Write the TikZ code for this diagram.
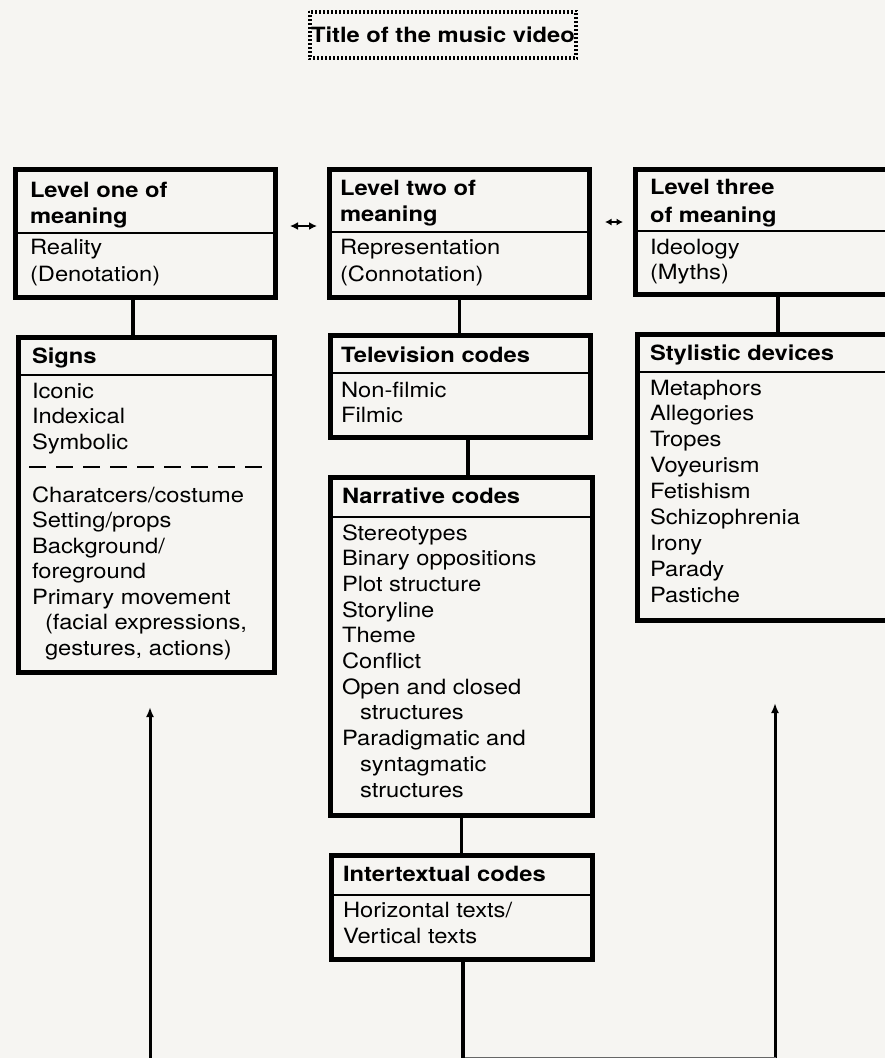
\documentclass[tikz,border=0pt]{standalone}
\usepackage{fontspec}
\setmainfont{TeX Gyre Heros}[FakeStretch=1.13]
\usetikzlibrary{arrows.meta,calc}
\definecolor{paper}{RGB}{246,245,242}
\newcommand\boxlines[6]{\foreach \t [count=\i] in {#6}{\node[#1] (#2-\i) at (#3,{#4+(\i-1)*#5}) {\t};}}
\begin{document}
\begin{tikzpicture}[x=1pt,y=-1pt,
  frame/.style={draw=black,line width=5pt,inner sep=0pt,outer sep=2.5pt},
  txt/.style={anchor=base west,inner sep=0pt,outer sep=0pt,font=\fontsize{21pt}{26pt}\selectfont},
  hd/.style={txt,font=\fontsize{21pt}{26pt}\selectfont\bfseries},
  divline/.style={line width=1.5pt},
  dashline/.style={line width=2pt,dash pattern=on 17pt off 10pt},
  conn/.style={line width=3.5pt},
  dbl/.style={line width=2.5pt,{Latex[length=8pt,width=8pt]}-{Latex[length=8pt,width=8pt]}},
  uparr/.style={line width=3pt,-{Latex[length=10pt,width=8pt]}},
  chk/.style={line width=2pt,dash pattern=on 2pt off 2pt}
]
\path[use as bounding box] (0,0) rectangle (885,1058);
\clip (0,0) rectangle (885,1058);
\fill[paper] (0,0) rectangle (885,1058);

% title
\node[font=\fontsize{21pt}{26pt}\selectfont\bfseries,minimum width=268pt,minimum height=48pt,inner sep=0pt,outer sep=0pt] (title) at (443,35) {Title of the music video};
\draw[chk] (title.north west) rectangle (title.south east);
\draw[chk,dash phase=2pt] ([shift={(2pt,-2pt)}]title.north west) rectangle ([shift={(-2pt,2pt)}]title.south east);

% boxes
\node[frame,minimum width=260pt,minimum height=128pt] (l1) at (145.5,233.5) {};
\node[frame,minimum width=260pt,minimum height=128pt] (l2) at (459.5,233.5) {};
\node[frame,minimum width=285pt,minimum height=125pt] (l3) at (778,232) {};
\node[frame,minimum width=256pt,minimum height=335pt] (signs) at (146.5,505) {};
\node[frame,minimum width=260pt,minimum height=102pt] (tv) at (460.5,386.5) {};
\node[frame,minimum width=262pt,minimum height=338pt] (narr) at (461.5,646.5) {};
\node[frame,minimum width=261pt,minimum height=104pt] (inter) at (462,907.5) {};
\node[frame,minimum width=283pt,minimum height=286pt] (styl) at (779,477.5) {};

% dividers
\draw[divline] (l1.west |- 0,233) -- (l1.east |- 0,233);
\draw[divline] (l2.west |- 0,232) -- (l2.east |- 0,232);
\draw[divline] (l3.west |- 0,231) -- (l3.east |- 0,231);
\draw[divline] (signs.west |- 0,375) -- (signs.east |- 0,375);
\draw[dashline] (29,467) -- (270,467);
\draw[divline] (tv.west |- 0,373) -- (tv.east |- 0,373);
\draw[divline] (narr.west |- 0,517) -- (narr.east |- 0,517);
\draw[divline] (inter.west |- 0,895) -- (inter.east |- 0,895);
\draw[divline] (styl.west |- 0,372) -- (styl.east |- 0,372);

% double arrows
\draw[dbl,shorten <=12pt,shorten >=10pt] ([yshift=7.5pt]l1.east) -- ([yshift=7.5pt]l2.west);
\draw[line width=2pt,{Latex[length=6.5pt,width=7pt]}-{Latex[length=6.5pt,width=7pt]},shorten <=13pt,shorten >=10pt] ([yshift=11.5pt]l2.east) -- ([yshift=10pt]l3.west);

% connectors
\draw[conn] ([xshift=-12.5pt]l1.south) -- ([xshift=-12.5pt]l1.south |- signs.north);
\draw[conn] (l2.south) -- (l2.south |- tv.north);
\draw[conn] ([xshift=7.5pt]tv.south) -- ([xshift=7.5pt]tv.south |- narr.north);
\draw[conn] (narr.south) -- (narr.south |- inter.north);
\coordinate (bot) at (463,1062);
\draw[conn] (inter.south -| bot) -- (bot);
\draw[conn] (l3.south) -- (l3.south |- styl.north);

% upward arrows
\coordinate (lb) at (150,1062);
\coordinate (lt) at (150,707);
\coordinate (rb) at (775,1062);
\coordinate (rt) at (775,703);
\draw[uparr] (lb) -- (lt);
\draw[uparr] (rb) -- (rt);
\coordinate (bl1) at (465,1058.5);
\coordinate (bl2) at (776,1058.5);
\draw[line width=3pt,black!60] (bl1) -- (bl2);

% texts
\boxlines{hd}{l1h}{30}{197}{26}{Level one of, meaning}
\boxlines{txt}{l1b}{30}{254}{27}{Reality, (Denotation)}
\boxlines{hd}{l2h}{340}{195}{26.5}{Level two of, meaning}
\boxlines{txt}{l2b}{340}{254}{27}{Representation, (Connotation)}
\boxlines{hd}{l3h}{650}{194}{28}{Level three, of meaning}
\boxlines{txt}{l3b}{650}{254}{25.5}{Ideology, (Myths)}
\boxlines{hd}{sgh}{32}{363}{0}{Signs}
\boxlines{txt}{sgb}{32}{398}{25.5}{Iconic, Indexical, Symbolic}
\boxlines{txt}{sgc}{32}{502}{25.5}{Charatcers/costume, Setting/props, Background/, foreground, Primary movement, {\hspace*{13pt}(facial expressions,}, {\hspace*{13pt}gestures, actions)}}
\boxlines{hd}{tvh}{341}{362}{0}{Television codes}
\boxlines{txt}{tvb}{341}{397}{25}{Non-filmic, Filmic}
\boxlines{hd}{nrh}{342}{503}{0}{Narrative codes}
\boxlines{txt}{nrb}{342}{540}{25.7}{Stereotypes, Binary oppositions, Plot structure, Storyline, Theme, Conflict, Open and closed, \hspace*{18pt}structures, Paradigmatic and, \hspace*{18pt}syntagmatic, \hspace*{18pt}structures}
\boxlines{hd}{ith}{343}{881}{0}{Intertextual codes}
\boxlines{txt}{itb}{343}{917}{26}{Horizontal texts/, Vertical texts}
\boxlines{hd}{sth}{650}{360}{0}{Stylistic devices}
\boxlines{txt}{stb}{650}{395}{25.9}{Metaphors, Allegories, Tropes, Voyeurism, Fetishism, Schizophrenia, Irony, Parady, Pastiche}
\end{tikzpicture}
\end{document}
